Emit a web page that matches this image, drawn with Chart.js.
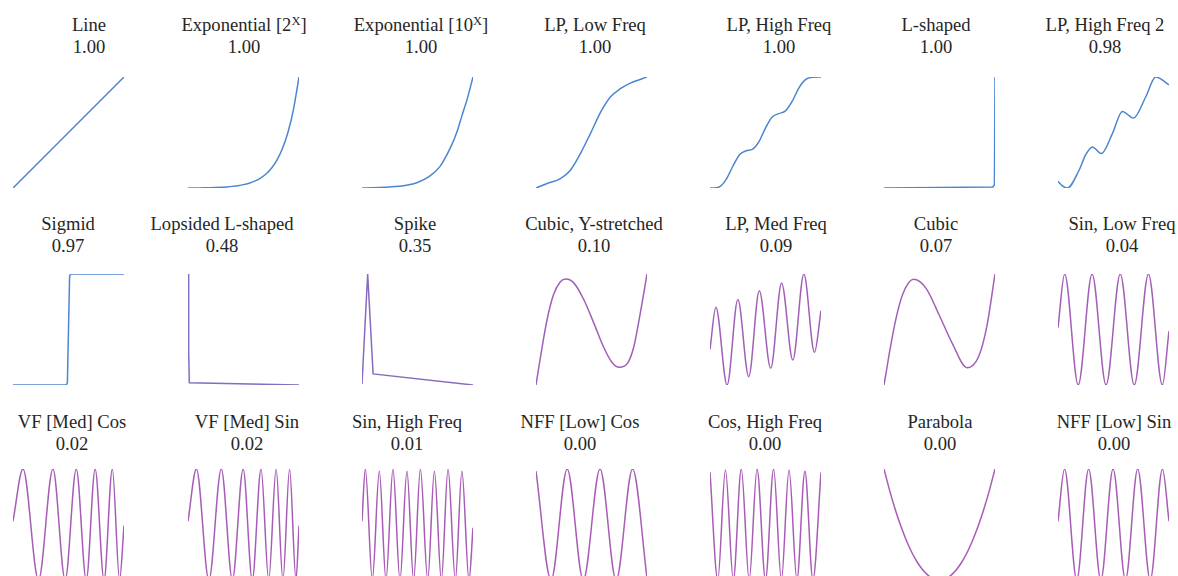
<!DOCTYPE html>
<html lang="en">
<head>
    <meta charset="UTF-8">
    <title>Curve Scores</title>
    <script src="https://cdn.jsdelivr.net/npm/chart.js"></script>
    <style>
        body {
            margin: 0;
            width: 1178px;
            height: 576px;
            overflow: hidden;
            background: white;
            position: relative;
            font-family: "Liberation Serif", "Times New Roman", Times, serif;
        }
        .title {
            position: absolute;
            width: 200px;
            margin-left: -100px;
            text-align: center;
            font-size: 18.6px;
            line-height: 22px;
            color: #262626;
            white-space: nowrap;
        }
        .title sup {
            font-size: 12.5px;
            line-height: 0;
            vertical-align: 6px;
        }
        canvas {
            position: absolute;
        }
    </style>
</head>
<body>
    <script>
        // panel names and scores, row by row
        const titles = [
            'Line', 'Exponential [2^X]', 'Exponential [10^X]', 'LP, Low Freq', 'LP, High Freq', 'L-shaped', 'LP, High Freq 2',
            'Sigmid', 'Lopsided L-shaped', 'Spike', 'Cubic, Y-stretched', 'LP, Med Freq', 'Cubic', 'Sin, Low Freq',
            'VF [Med] Cos', 'VF [Med] Sin', 'Sin, High Freq', 'NFF [Low] Cos', 'Cos, High Freq', 'Parabola', 'NFF [Low] Sin'
        ];
        const scores = [
            1.00, 1.00, 1.00, 1.00, 1.00, 1.00, 0.98,
            0.97, 0.48, 0.35, 0.10, 0.09, 0.07, 0.04,
            0.02, 0.02, 0.01, 0.00, 0.00, 0.00, 0.00
        ];

        // curve samples
        const lineX = [0, 1];
        const lineY = [0, 1];

        const exp2X = [0, 0.5, 1, 1.5, 2, 2.5, 3, 3.5, 4, 4.5, 5, 5.5, 6, 6.5, 7, 7.5, 8, 8.5, 9, 9.5, 10];
        const exp2Y = [1, 1.41, 2, 2.83, 4, 5.66, 8, 11.3, 16, 22.6, 32, 45.3, 64, 90.5, 128, 181, 256, 362, 512, 724, 1024];

        const exp10X = [0, 0.1, 0.2, 0.3, 0.4, 0.5, 0.6, 0.7, 0.8, 0.85, 0.9, 0.95, 1];
        const exp10Y = [0, 0.003, 0.007, 0.013, 0.025, 0.05, 0.10, 0.19, 0.37, 0.49, 0.65, 0.81, 1];

        const lpLowX = [0, 0.1, 0.22, 0.31, 0.4, 0.49, 0.58, 0.67, 0.76, 0.85, 1];
        const lpLowY = [0, 0.04, 0.085, 0.16, 0.31, 0.49, 0.68, 0.82, 0.895, 0.945, 1];

        const lpHighX = [0, 0.06, 0.10, 0.15, 0.21, 0.27, 0.325, 0.385, 0.44, 0.5, 0.56, 0.62, 0.68, 0.74, 0.8, 0.86, 0.92, 1];
        const lpHighY = [0, 0.003, 0.02, 0.085, 0.205, 0.305, 0.335, 0.35, 0.415, 0.54, 0.64, 0.67, 0.695, 0.78, 0.90, 0.976, 0.997, 1];

        const lShapedX = [0, 0.5, 0.98, 0.995, 1];
        const lShapedY = [0, 0.004, 0.01, 0.03, 1];

        const lpHigh2X = [0, 0.04, 0.084, 0.19, 0.25, 0.31, 0.39, 0.49, 0.58, 0.68, 0.79, 0.88, 1];
        const lpHigh2Y = [0.06, 0.02, 0, 0.16, 0.30, 0.37, 0.31, 0.49, 0.69, 0.63, 0.82, 1, 0.93];

        const sigmoidX = [0, 0.3, 0.48, 0.49, 0.5, 0.51, 0.52, 0.7, 1];
        const sigmoidY = [0, 0, 0, 0.02, 0.5, 0.98, 1, 1, 1];

        const lopsidedX = [0, 0.006, 0.012, 1];
        const lopsidedY = [1, 0.3, 0.02, 0];

        const spikeX = [0, 0.051, 0.10, 1];
        const spikeY = [0.01, 1, 0.10, 0];

        const cubicStretchX = [0, 0.04, 0.10, 0.16, 0.22, 0.27, 0.34, 0.43, 0.52, 0.61, 0.68, 0.75, 0.82, 0.88, 0.94, 1];
        const cubicStretchY = [0, 0.25, 0.59, 0.82, 0.93, 0.954, 0.92, 0.77, 0.56, 0.34, 0.21, 0.16, 0.19, 0.34, 0.65, 1];

        const lpMedX = [0, 0.053, 0.154, 0.251, 0.349, 0.444, 0.547, 0.645, 0.746, 0.846, 0.941, 1];
        const lpMedY = [0.32, 0.70, 0, 0.77, 0.075, 0.85, 0.15, 0.92, 0.225, 1, 0.294, 0.67];

        const cubicX = [0, 0.018, 0.053, 0.112, 0.172, 0.266, 0.379, 0.497, 0.615, 0.749, 0.852, 0.926, 1];
        const cubicY = [0, 0.105, 0.315, 0.616, 0.826, 0.952, 0.871, 0.631, 0.375, 0.156, 0.255, 0.526, 1];

        const sinLowX = [0, 0.06, 0.182, 0.307, 0.433, 0.561, 0.687, 0.815, 0.94, 1];
        const sinLowY = [0.516, 1, 0, 1, 0, 1, 0, 1, 0, 0.486];

        const vfCosX = [0, 0.09, 0.23, 0.36, 0.47, 0.57, 0.66, 0.74, 0.82, 0.895, 0.96, 1];
        const vfCosY = [0.53, 1, 0, 1, 0, 1, 0, 1, 0, 1, 0, 0.49];

        const vfSinX = [0, 0.076, 0.188, 0.30, 0.40, 0.497, 0.579, 0.658, 0.727, 0.794, 0.855, 0.915, 0.973, 1];
        const vfSinY = [0.53, 1, 0, 1, 0, 1, 0, 1, 0, 1, 0, 1, 0, 0.49];

        const sinHighX = [0, 0.03, 0.093, 0.156, 0.216, 0.279, 0.342, 0.405, 0.465, 0.526, 0.592, 0.652, 0.715, 0.775, 0.841, 0.90, 0.964, 1];
        const sinHighY = [0.53, 1, 0, 0.98, 0, 1, 0, 0.98, 0, 1, 0, 0.98, 0, 1, 0, 0.98, 0, 0.47];

        const nffCosX = [0, 0.136, 0.281, 0.426, 0.577, 0.722, 0.87, 1];
        const nffCosY = [0.98, 0, 1, 0, 1, 0, 1, 0.02];

        const cosHighX = [0, 0.07, 0.139, 0.21, 0.282, 0.353, 0.424, 0.5, 0.573, 0.643, 0.712, 0.783, 0.855, 0.927, 1];
        const cosHighY = [0.97, 0, 0.99, 0, 1, 0, 1, 0, 1, 0, 0.99, 0, 0.98, 0, 0.97];

        const parabolaX = [-1, -0.9, -0.8, -0.7, -0.6, -0.5, -0.4, -0.3, -0.2, -0.1, 0, 0.1, 0.2, 0.3, 0.4, 0.5, 0.6, 0.7, 0.8, 0.9, 1];
        const parabolaY = [1, 0.81, 0.64, 0.49, 0.36, 0.25, 0.16, 0.09, 0.04, 0.01, 0, 0.01, 0.04, 0.09, 0.16, 0.25, 0.36, 0.49, 0.64, 0.81, 1];

        const nffSinX = [0, 0.059, 0.169, 0.276, 0.386, 0.496, 0.608, 0.718, 0.831, 0.941, 1];
        const nffSinY = [0.53, 1, 0, 1, 0, 1, 0, 1, 0, 1, 0.53];

        const series = [
            [lineX, lineY], [exp2X, exp2Y], [exp10X, exp10Y], [lpLowX, lpLowY], [lpHighX, lpHighY], [lShapedX, lShapedY], [lpHigh2X, lpHigh2Y],
            [sigmoidX, sigmoidY], [lopsidedX, lopsidedY], [spikeX, spikeY], [cubicStretchX, cubicStretchY], [lpMedX, lpMedY], [cubicX, cubicY], [sinLowX, sinLowY],
            [vfCosX, vfCosY], [vfSinX, vfSinY], [sinHighX, sinHighY], [nffCosX, nffCosY], [cosHighX, cosHighY], [parabolaX, parabolaY], [nffSinX, nffSinY]
        ];

        // panels drawn with straight segments
        const sharp = ['Line', 'L-shaped', 'Sigmid', 'Lopsided L-shaped', 'Spike'];

        // layout
        const colLeft = [13, 188, 362, 536, 710, 884, 1058];
        const rowTop = [77, 274, 469];
        const boxW = 111, boxH = 111, pad = 4;
        const titleTop = [14, 213, 411];
        const titleCenter = [
            89, 244, 421, 595, 779, 936, 1105,
            68, 222, 415, 594, 776, 936, 1122,
            72, 247, 407, 580, 765, 940, 1114
        ];

        // blue for good scores, purple for bad ones
        const good = [74, 134, 207], bad = [169, 92, 182];
        function scoreColor(s) {
            const c = good.map((g, k) => Math.round(bad[k] + (g - bad[k]) * s));
            return `rgb(${c[0]}, ${c[1]}, ${c[2]})`;
        }

        titles.forEach((name, i) => {
            const row = Math.floor(i / 7), col = i % 7;

            const label = document.createElement('div');
            label.className = 'title';
            label.style.left = titleCenter[i] + 'px';
            label.style.top = titleTop[row] + 'px';
            label.innerHTML = name.replace(/\^X/, '<sup>X</sup>') + '<br>' + scores[i].toFixed(2);
            document.body.appendChild(label);

            const canvas = document.createElement('canvas');
            canvas.width = boxW + pad * 2;
            canvas.height = boxH + pad * 2;
            canvas.style.left = (colLeft[col] - pad) + 'px';
            canvas.style.top = (rowTop[row] - pad) + 'px';
            document.body.appendChild(canvas);

            const [xs, ys] = series[i];
            const points = xs.map((x, k) => ({ x: x, y: ys[k] }));
            const smooth = !sharp.includes(name);

            new Chart(canvas, {
                type: 'line',
                data: {
                    datasets: [{
                        data: points,
                        borderColor: scoreColor(scores[i]),
                        borderWidth: 1.5,
                        pointRadius: 0,
                        fill: false,
                        tension: smooth ? 0.4 : 0,
                        cubicInterpolationMode: smooth ? 'monotone' : 'default'
                    }]
                },
                options: {
                    responsive: false,
                    devicePixelRatio: 1,
                    animation: false,
                    events: [],
                    layout: { padding: pad },
                    scales: {
                        x: { type: 'linear', display: false, min: Math.min(...xs), max: Math.max(...xs) },
                        y: { type: 'linear', display: false, min: Math.min(...ys), max: Math.max(...ys) }
                    },
                    plugins: {
                        legend: { display: false },
                        tooltip: { enabled: false }
                    }
                }
            });
        });
    </script>
</body>
</html>
